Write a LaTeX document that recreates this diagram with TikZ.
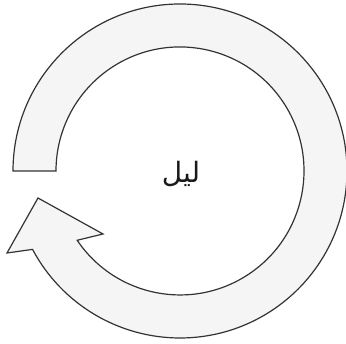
\documentclass[tikz,border=0pt]{standalone}
\usepackage{fontspec}
\newfontfamily\arabicfont[Script=Arabic]{DejaVu Sans}
\TeXXeTstate=1
\begin{document}
\begin{tikzpicture}[x=1pt,y=1pt,
  ring/.style={draw=black!80,line width=1.2pt,fill=black!4,line join=miter},
  label/.style={font=\arabicfont\fontsize{28}{32}\selectfont,text=black!90}]
\useasboundingbox (0,0) rectangle (346,344);
\coordinate (c) at (180,173);
\draw[ring] (13,173) arc[start angle=180,end angle=-152,radius=167]
  -- (7,91) -- (38,146) -- (103,110) -- (77.2,103.7)
  arc[start angle=-146,end angle=180,radius=124] -- cycle;
\node[label] (t) at (181,170) {\beginR ليل\endR};
\end{tikzpicture}
\end{document}
